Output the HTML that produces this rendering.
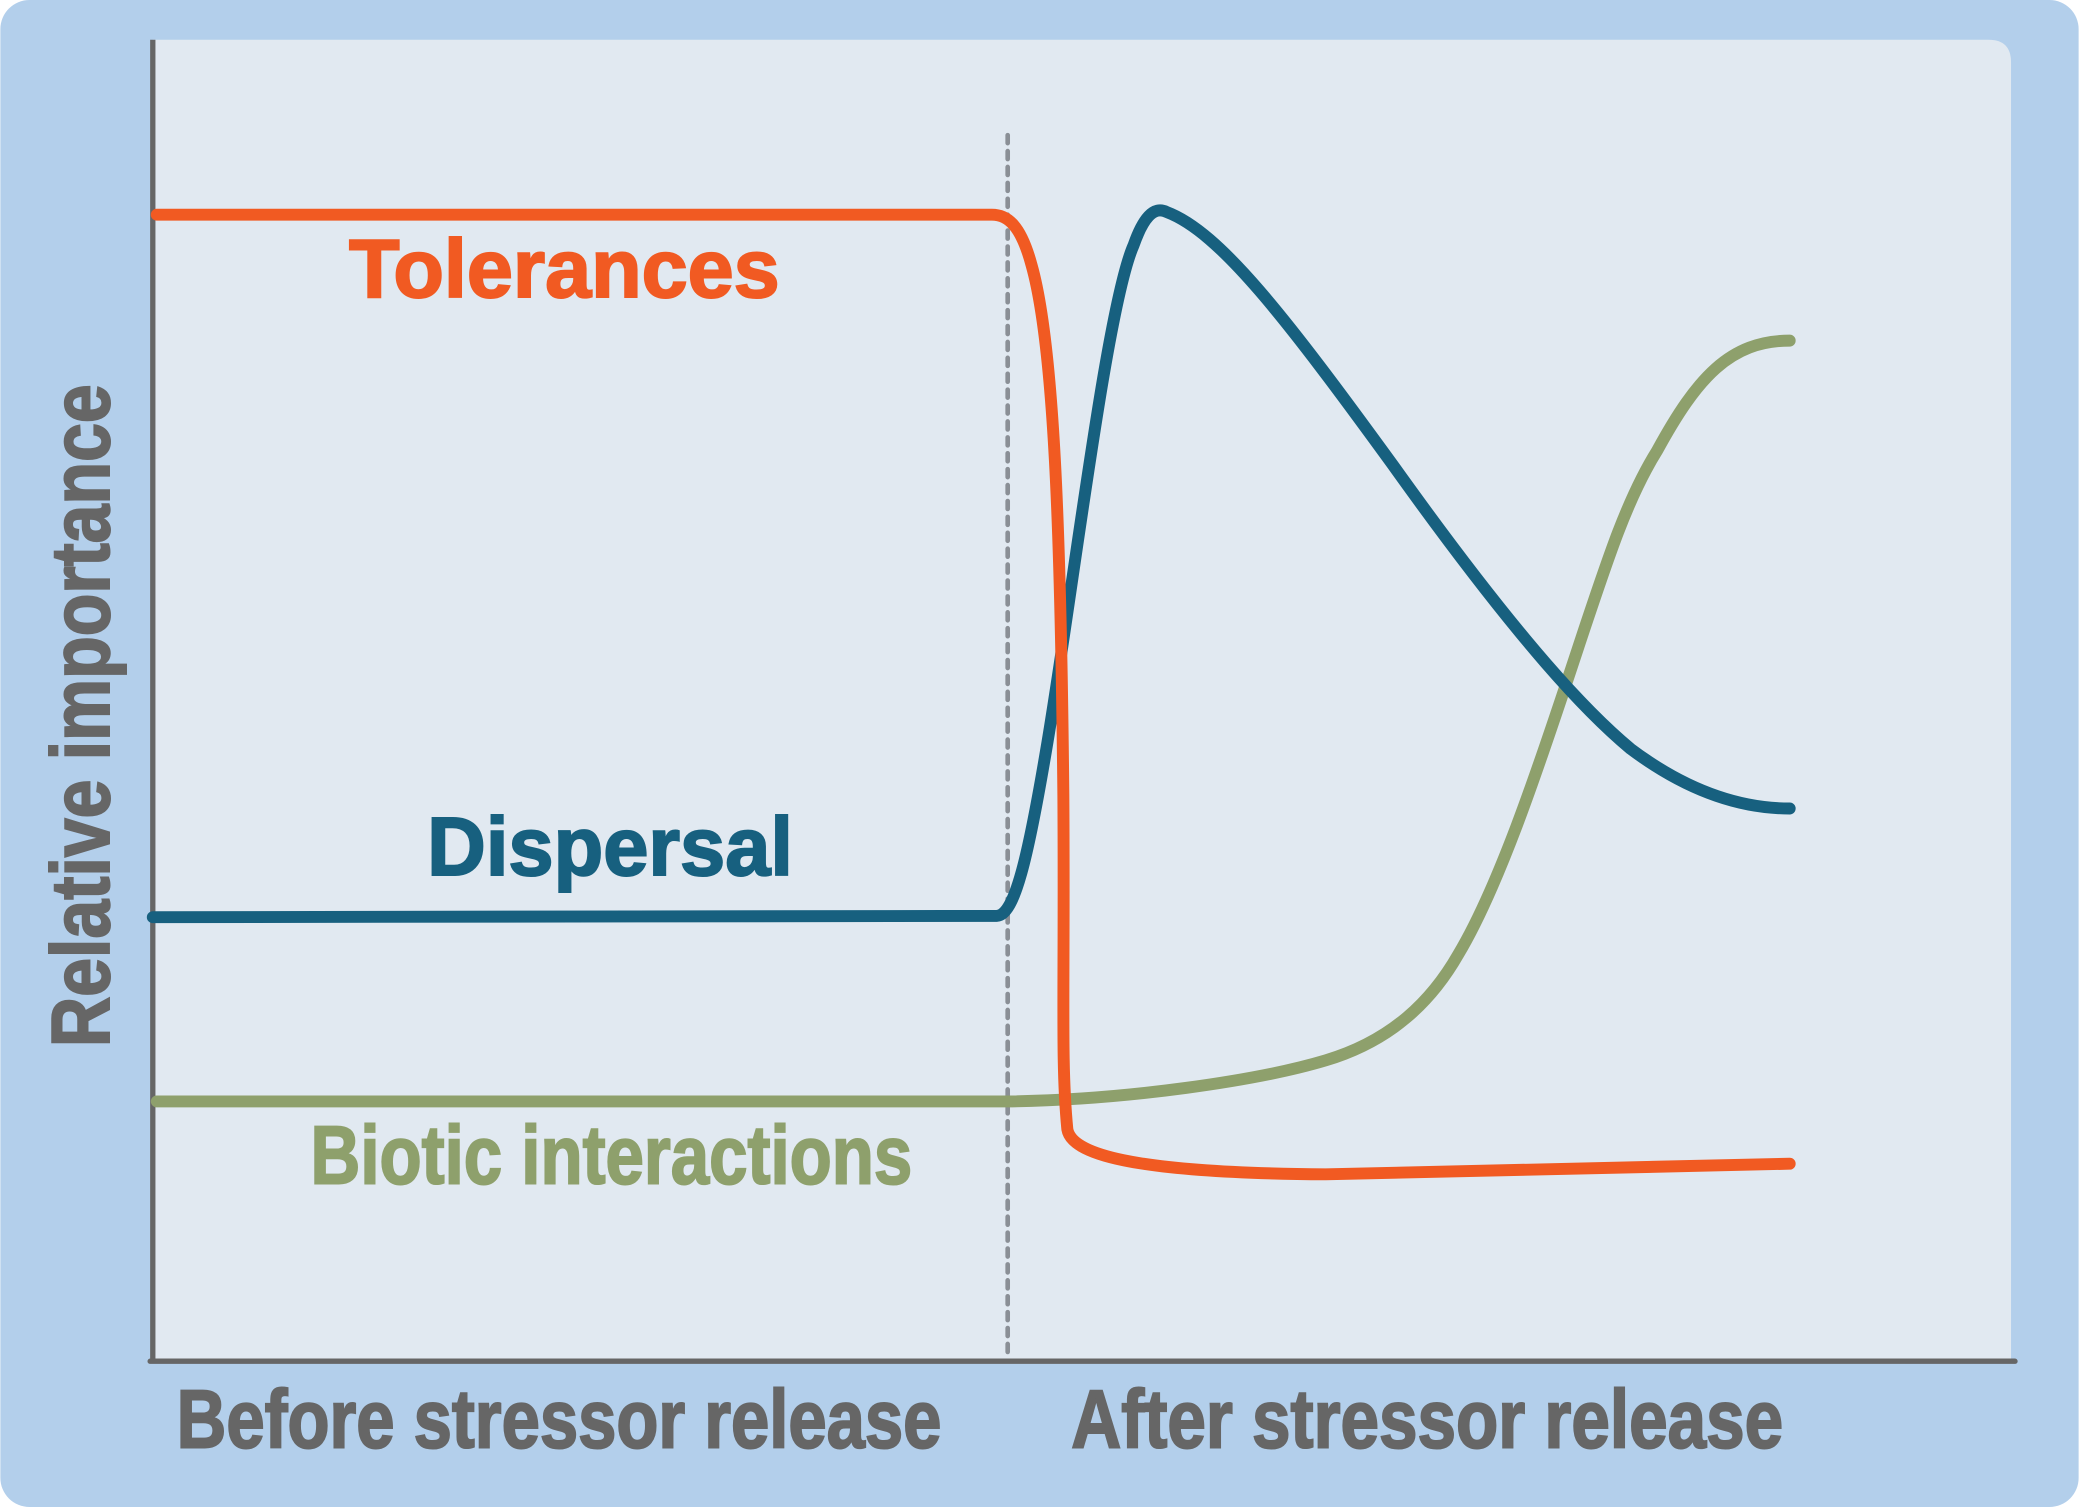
<!DOCTYPE html>
<html><head><meta charset="utf-8"><style>
html,body{margin:0;padding:0;background:#ffffff;}
svg{display:block;}
text{font-family:"Liberation Sans Narrow","Liberation Sans",sans-serif;font-weight:bold;}
</style></head><body>
<svg width="2079" height="1507" viewBox="0 0 1568 1137" xmlns="http://www.w3.org/2000/svg">
<rect x="0" y="0" width="1568" height="1137" rx="22" fill="#b3cfeb"/>
<path d="M115,30 L1500,30 Q1517,30 1517,47 L1517,1027 L115,1027 Z" fill="#e1e9f1"/>
<line x1="760" y1="102" x2="760" y2="1025" stroke="#8a8f96" stroke-width="3.5" stroke-dasharray="6,6" stroke-linecap="round"/>
<line x1="115" y1="30" x2="115" y2="1027" stroke="#666" stroke-width="4"/>
<line x1="113" y1="1027" x2="1520" y2="1027" stroke="#666" stroke-width="4" stroke-linecap="round"/>
<g fill="none" stroke-width="9" stroke-linecap="round" stroke-linejoin="round">
<path stroke="#8ea06c" d="M118,831 L760,831 C850,830 950,815 1000,800 C1050,785 1080,755 1100,720 C1130,670 1160,580 1180,520 C1210,430 1225,380 1250,340 C1280,285 1305,257 1350,257"/>
<path stroke="#17607f" d="M115,692 L752,691 C765,690 775,650 790,560 C810,440 835,230 855,185 C862,165 870,155 880,160 C920,175 970,240 1050,350 C1150,490 1200,540 1230,565 C1270,595 1310,610 1350,610"/>
<path stroke="#f15a22" d="M118,162 L748,162 C760,162 770,170 778,200 C795,260 800,400 802,600 C803,750 800,800 805,852 C808,870 850,885 1000,886 L1350,878"/>
</g>
<g stroke-width="1.5">
<text x="263" y="224" font-size="62" fill="#f15a22" stroke="#f15a22" textLength="325" lengthAdjust="spacingAndGlyphs">Tolerances</text>
<text x="322" y="660" font-size="62" fill="#17607f" stroke="#17607f" textLength="276" lengthAdjust="spacingAndGlyphs">Dispersal</text>
<text x="234" y="893" font-size="62" fill="#8ea06c" stroke="#8ea06c" textLength="454" lengthAdjust="spacingAndGlyphs">Biotic interactions</text>
<text x="133" y="1092" font-size="62" fill="#666" stroke="#666" textLength="577" lengthAdjust="spacingAndGlyphs">Before stressor release</text>
<text x="808" y="1092" font-size="62" fill="#666" stroke="#666" textLength="537" lengthAdjust="spacingAndGlyphs">After stressor release</text>
<text transform="translate(82,790) rotate(-90)" font-size="62" fill="#666" stroke="#666" textLength="500" lengthAdjust="spacingAndGlyphs">Relative importance</text>
</g>
</svg>
</body></html>
